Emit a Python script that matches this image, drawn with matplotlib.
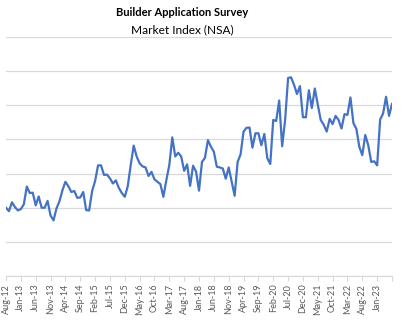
import matplotlib.pyplot as plt
import numpy as np

# monthly index, Aug-12 .. Jun-23
index_values = [
    20.0, 19.0, 21.6, 20.2, 19.2, 19.6, 21.0, 26.2, 24.3, 24.4,
    20.7, 23.3, 20.0, 20.0, 22.0, 17.7, 16.3, 19.8, 21.9, 25.1,
    27.6, 26.3, 24.6, 24.9, 22.9, 23.0, 24.6, 19.3, 19.2, 24.9,
    27.8, 32.4, 32.4, 29.6, 29.7, 28.6, 27.1, 28.0, 25.8, 24.3,
    23.2, 26.3, 32.5, 38.2, 35.0, 33.0, 32.1, 31.8, 29.3, 30.5,
    28.3, 27.6, 26.9, 23.2, 28.1, 32.5, 40.6, 35.0, 36.1, 35.0,
    30.8, 32.7, 26.4, 32.3, 30.6, 25.0, 33.4, 34.6, 39.8, 37.9,
    36.4, 32.0, 31.8, 31.5, 28.5, 31.8, 27.6, 23.5, 33.4, 35.6,
    42.3, 43.4, 43.5, 37.6, 41.8, 41.8, 38.3, 41.6, 34.5, 32.8,
    45.7, 45.4, 51.4, 38.0, 45.7, 58.0, 58.2, 56.0, 53.3, 55.6,
    46.5, 46.5, 54.4, 49.2, 54.9, 50.2, 45.7, 44.3, 42.3, 46.0,
    44.5, 46.9, 45.7, 43.2, 47.4, 47.2, 52.3, 44.8, 43.1, 37.8,
    35.4, 41.3, 38.3, 33.4, 33.6, 32.4, 45.8, 47.6, 52.5, 46.9,
    50.4,
]

tick_labels = [
    'Aug-12', 'Jan-13', 'Jun-13', 'Nov-13', 'Apr-14', 'Sep-14', 'Feb-15',
    'Jul-15', 'Dec-15', 'May-16', 'Oct-16', 'Mar-17', 'Aug-17', 'Jan-18',
    'Jun-18', 'Nov-18', 'Apr-19', 'Sep-19', 'Feb-20', 'Jul-20', 'Dec-20',
    'May-21', 'Oct-21', 'Mar-22', 'Aug-22', 'Jan-23', '',
]

plt.rcParams['font.family'] = ['Lato', 'DejaVu Sans']

fig = plt.figure(figsize=(4.04, 3.30), dpi=100)
ax = fig.add_axes([0.0149, 0.1636, 0.9554, 0.7243])

x = np.arange(len(index_values))
ax.plot(x, index_values, color='#4472C4', linewidth=1.6, solid_joinstyle='round')

ax.set_xlim(0, len(index_values) - 1)
ax.set_ylim(0, 70)
ax.set_yticks(np.arange(0, 71, 10))
ax.set_yticklabels([])
ax.tick_params(axis='y', length=0)
ax.grid(axis='y', color='#d9d9d9', linewidth=0.9)
ax.set_axisbelow(True)

ax.set_xticks(np.arange(0, len(index_values), 5))
ax.set_xticklabels(tick_labels, rotation=90, fontsize=6.5, color='#595959')
ax.tick_params(axis='x', length=3.5, color='#d9d9d9', pad=2)

for side in ['top', 'right', 'left']:
    ax.spines[side].set_visible(False)
ax.spines['bottom'].set_color('#d9d9d9')

fig.text(0.452, 0.978, 'Builder Application Survey', ha='center', va='top',
         fontsize=8, fontweight='bold', color='black')
fig.text(0.452, 0.925, 'Market Index (NSA)', ha='center', va='top',
         fontsize=8.6, color='black')

fig.savefig('out.png', dpi=100, facecolor='white')
